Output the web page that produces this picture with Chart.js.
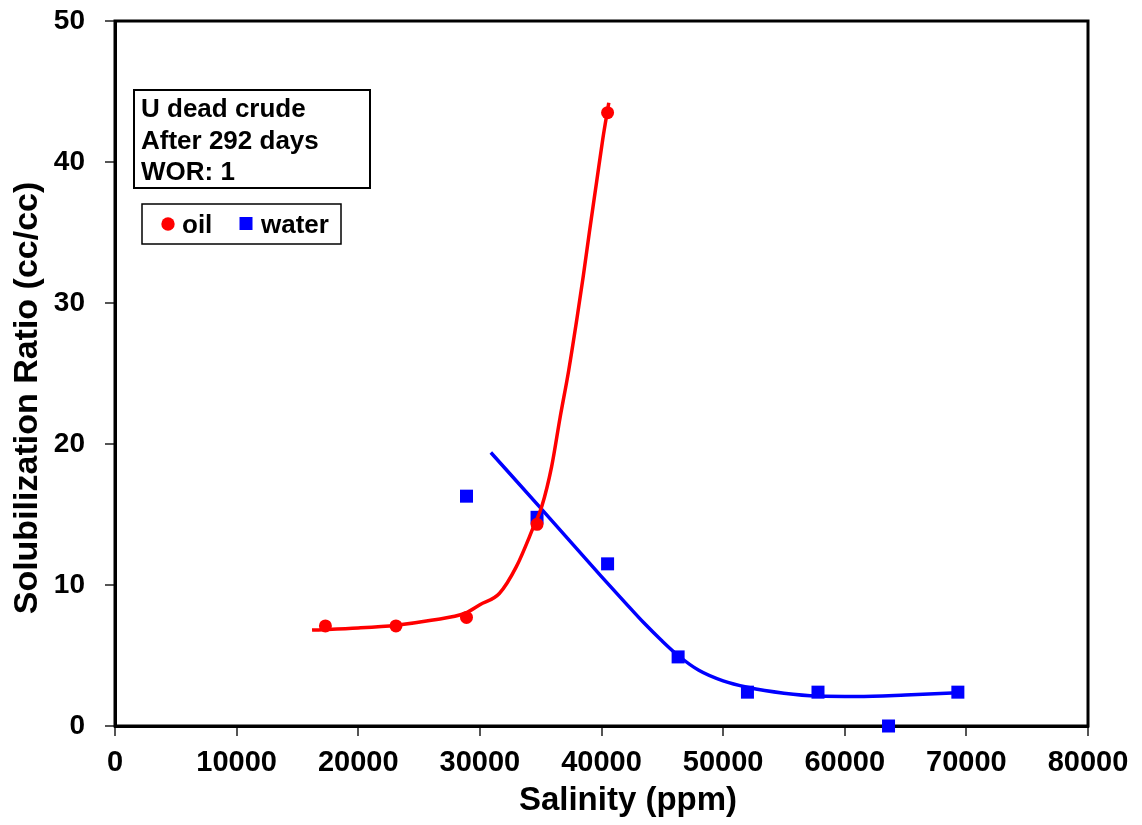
<!DOCTYPE html>
<html>
<head>
<meta charset="utf-8">
<script src="https://cdn.jsdelivr.net/npm/chart.js@4/dist/chart.umd.min.js"></script>
<style>
  body { margin: 0; background: #fff; }
  #wrap { width: 1142px; height: 825px; }
</style>
</head>
<body>
<div id="wrap"><canvas id="chart" width="1142" height="825"></canvas></div>
<script>
// measured points
const oilSalinity = [17300, 23100, 28900, 34700, 40500]
const oilRatio = [7.1, 7.1, 7.7, 14.3, 43.5]
const waterSalinity = [28900, 34700, 40500, 46300, 52000, 57800, 63600, 69300]
const waterRatio = [16.3, 14.8, 11.5, 4.9, 2.4, 2.4, 0, 2.4]

// hand drawn trend curves
const oilFitSalinity = [16200, 20000, 23100, 26000, 28800, 30000, 31600, 33000, 34400, 35100, 35900, 36600, 37300, 38000, 38500, 39000, 39600, 40100, 40600]
const oilFitRatio = [6.8, 6.95, 7.15, 7.5, 8.0, 8.6, 9.4, 11.3, 14.1, 15.6, 18.4, 21.9, 25.2, 29.0, 31.9, 35.0, 38.6, 41.6, 44.2]
const waterFitSalinity = [30900, 35000, 40000, 42000, 43500, 44900, 46300, 48000, 50000, 52000, 55000, 57800, 61000, 65000, 69300]
const waterFitRatio = [19.4, 15.45, 10.6, 8.7, 7.3, 6.1, 5.0, 3.95, 3.2, 2.75, 2.33, 2.13, 2.1, 2.2, 2.36]

const xTicks = [0, 10000, 20000, 30000, 40000, 50000, 60000, 70000, 80000]
const yTicks = [0, 10, 20, 30, 40, 50]

const noteLines = ["U dead crude", "After 292 days", "WOR: 1"]
const xTitle = "Salinity (ppm)"
const yTitle = "Solubilization Ratio (cc/cc)"

const RED = "#ff0000"
const BLUE = "#0000ff"
const FONT = "'Liberation Sans', Arial, sans-serif"

const pts = (xs, ys) => xs.map((x, i) => ({ x, y: ys[i] }))

const frame = {
  id: "frame",
  beforeDatasetsDraw(chart) {
    const { ctx, chartArea: a } = chart
    ctx.save()
    ctx.strokeStyle = "#000"
    ctx.lineWidth = 3
    ctx.strokeRect(a.left, a.top, a.right - a.left, a.bottom - a.top)
    ctx.restore()
  },
  afterDraw(chart) {
    const { ctx } = chart
    ctx.save()
    ctx.fillStyle = "#000"

    // axis titles
    ctx.textAlign = "center"
    ctx.textBaseline = "alphabetic"
    ctx.font = "bold 33px " + FONT
    ctx.fillText(xTitle, 628, 810)
    ctx.font = "bold 34px " + FONT
    ctx.translate(37, 398)
    ctx.rotate(-Math.PI / 2)
    ctx.fillText(yTitle, 0, 0)
    ctx.setTransform(1, 0, 0, 1, 0, 0)

    // note box
    ctx.lineWidth = 2
    ctx.strokeStyle = "#000"
    ctx.strokeRect(134, 90, 236, 98)
    ctx.font = "bold 26px " + FONT
    ctx.textAlign = "left"
    noteLines.forEach((t, i) => ctx.fillText(t, 141, 117 + i * 31.5))

    // legend
    ctx.lineWidth = 1.5
    ctx.strokeRect(142, 204, 199, 40)
    ctx.fillStyle = RED
    ctx.beginPath()
    ctx.arc(168, 224, 6.7, 0, Math.PI * 2)
    ctx.fill()
    ctx.fillStyle = BLUE
    ctx.fillRect(239.5, 217, 13, 13)
    ctx.fillStyle = "#000"
    ctx.fillText("oil", 182, 233)
    ctx.fillText("water", 261, 233)
    ctx.restore()
  }
}

new Chart(document.getElementById("chart"), {
  type: "scatter",
  data: {
    datasets: [
      { label: "oil", data: pts(oilSalinity, oilRatio), pointStyle: "circle", pointRadius: 6.5,
        backgroundColor: RED, borderColor: RED, borderWidth: 0, clip: false },
      { label: "oil fit", data: pts(oilFitSalinity, oilFitRatio), showLine: true, pointRadius: 0,
        borderColor: RED, borderWidth: 3.5, cubicInterpolationMode: "monotone", clip: false },
      { label: "water", data: pts(waterSalinity, waterRatio), pointStyle: "rect", pointRadius: 9.2,
        backgroundColor: BLUE, borderColor: BLUE, borderWidth: 0, clip: false },
      { label: "water fit", data: pts(waterFitSalinity, waterFitRatio), showLine: true, pointRadius: 0,
        borderColor: BLUE, borderWidth: 3.5, cubicInterpolationMode: "monotone", clip: false }
    ]
  },
  options: {
    responsive: false,
    animation: false,
    layout: { padding: { top: 21, right: 54, left: 0, bottom: 0 } },
    plugins: { legend: { display: false }, tooltip: { enabled: false } },
    scales: {
      x: {
        type: "linear", min: 0, max: 80000,
        afterBuildTicks: s => { s.ticks = xTicks.map(v => ({ value: v })) },
        afterFit: s => { s.height = 99; s.paddingLeft = 0; s.paddingRight = 0 },
        grid: { drawOnChartArea: false, tickLength: 10, color: "#555", lineWidth: 2 },
        border: { color: "#000", width: 3 },
        ticks: { color: "#000", font: { family: FONT, size: 29, weight: "bold" }, padding: 10,
          maxRotation: 0, autoSkip: false, callback: v => String(v) }
      },
      y: {
        type: "linear", min: 0, max: 50,
        afterBuildTicks: s => { s.ticks = yTicks.map(v => ({ value: v })) },
        afterFit: s => { s.width = 115; s.paddingTop = 0; s.paddingBottom = 0 },
        grid: { drawOnChartArea: false, tickLength: 10, color: "#555", lineWidth: 2 },
        border: { color: "#000", width: 3 },
        ticks: { color: "#000", font: { family: FONT, size: 28, weight: "bold" }, padding: 20,
          callback: v => String(v) }
      }
    }
  },
  plugins: [frame]
})
</script>
</body>
</html>
